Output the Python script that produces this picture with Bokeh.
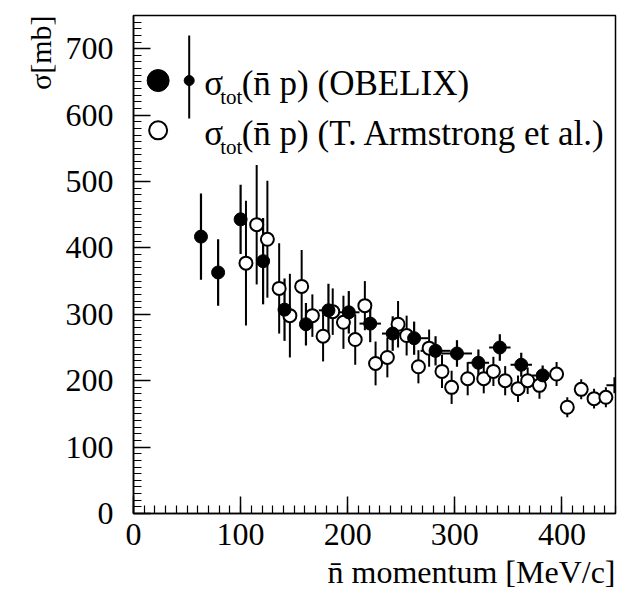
import math
from bokeh.plotting import figure
from bokeh.models import Range1d, SingleIntervalTicker, Label, ColumnDataSource, Title
from bokeh.embed import file_html
from bokeh.resources import INLINE

# ---------------- data ----------------
obelix_p = [63, 79, 100, 121, 141, 161, 182, 201, 221, 242, 262, 282, 302, 322, 342, 362, 382]
obelix_sigma = [417, 363, 443, 380, 307, 285, 306, 303, 286, 271, 264, 245, 241, 227, 250, 224, 208]
obelix_err = [65, 50, 52, 65, 47, 32, 40, 32, 28, 26, 25, 22, 20, 20, 20, 18, 15]
obelix_perr = [0, 0, 0, 0, 0, 0, 9, 10, 10, 10, 13, 14, 14, 10, 10, 10, 10]

arm_p = [105, 115, 125, 136, 146, 157, 167, 177, 186, 196, 207, 216, 226, 237, 247, 255,
         266, 276, 288, 297, 312, 327, 336, 347, 359, 368, 379, 395, 405, 418, 430, 441]
arm_sigma = [377, 435, 413, 339, 298, 342, 298, 267, 304, 288, 262, 313, 226, 235, 285, 268,
             221, 249, 214, 190, 203, 203, 214, 200, 188, 200, 193, 210, 160, 187, 173, 175]
arm_err = [94, 90, 88, 68, 63, 55, 32, 38, 35, 40, 38, 37, 33, 30, 35, 30,
           25, 28, 25, 25, 25, 22, 22, 22, 20, 20, 20, 18, 15, 15, 15, 15]

extra_p = [449]
extra_sigma = [193]

x_range = (0, 450)
y_range = (0, 750)
x_title = "n\u0304 momentum [MeV/c]"
y_title = "\u03c3[mb]"
leg_texts = ["(n\u0304 p) (OBELIX)", "(n\u0304 p) (T. Armstrong et al.)"]

FONT = "Liberation Serif"

p = figure(width=621, height=600, output_backend="svg", toolbar_location=None,
           x_range=Range1d(*x_range), y_range=Range1d(*y_range),
           min_border_left=133, min_border_right=6, min_border_top=15, min_border_bottom=87)
p.grid.visible = False
p.outline_line_color = "black"
p.outline_line_width = 1.5
p.background_fill_color = "white"
p.border_fill_color = "white"

for ax in (p.xaxis[0], p.yaxis[0]):
    ax.ticker = SingleIntervalTicker(interval=100, num_minor_ticks=10)
    ax.major_tick_in = 17
    ax.major_tick_out = 0
    ax.minor_tick_in = 8
    ax.minor_tick_out = 0
    ax.axis_line_width = 1.5
    ax.major_tick_line_width = 1.5
    ax.minor_tick_line_width = 1.2
    ax.major_label_text_font = FONT
    ax.major_label_text_font_size = "32px"
    ax.major_label_text_font_style = "normal"
    ax.major_label_text_color = "black"
p.xaxis.major_label_standoff = 10
p.yaxis.major_label_standoff = 20

# ---------------- axis titles ----------------
p.add_layout(Title(text=x_title, align="right", text_font=FONT, text_font_size="32px",
                   text_font_style="normal", text_color="black", standoff=8), "below")
p.add_layout(Title(text=y_title, align="right", text_font=FONT, text_font_size="30px",
                   text_font_style="normal", text_color="black", standoff=12), "left")

# ---------------- error bars and markers ----------------
src_o = ColumnDataSource(dict(
    x=obelix_p, y=obelix_sigma,
    lo=[s - e for s, e in zip(obelix_sigma, obelix_err)],
    hi=[s + e for s, e in zip(obelix_sigma, obelix_err)],
    xl=[x - e for x, e in zip(obelix_p, obelix_perr)],
    xh=[x + e for x, e in zip(obelix_p, obelix_perr)]))
src_a = ColumnDataSource(dict(
    x=arm_p, y=arm_sigma,
    lo=[s - e for s, e in zip(arm_sigma, arm_err)],
    hi=[s + e for s, e in zip(arm_sigma, arm_err)]))

p.segment(x0="x", y0="lo", x1="x", y1="hi", source=src_a, line_color="black", line_width=2)
p.segment(x0="x", y0="lo", x1="x", y1="hi", source=src_o, line_color="black", line_width=2.2)
p.segment(x0="xl", y0="y", x1="xh", y1="y", source=src_o, line_color="black", line_width=2)
p.scatter(x="x", y="y", source=src_a, size=13, marker="circle",
          fill_color="white", line_color="black", line_width=2)
p.scatter(x="x", y="y", source=src_o, size=13, marker="circle",
          fill_color="black", line_color="black")
p.scatter(x=extra_p, y=extra_sigma, size=16, marker="cross", line_color="black", line_width=2)

# ---------------- legend (drawn by hand, ROOT style) ----------------
leg_x = 23
leg_y = [652, 577]
p.scatter(x=[leg_x], y=[leg_y[0]], size=22, marker="circle", fill_color="black", line_color="black")
p.scatter(x=[leg_x], y=[leg_y[1]], size=18, marker="circle", fill_color="white",
          line_color="black", line_width=2)
p.segment(x0=[52], y0=[595], x1=[52], y1=[720], line_color="black", line_width=2)
p.scatter(x=[52], y=[leg_y[0]], size=10, marker="circle", fill_color="black", line_color="black")

base = [647, 572]
for i in range(2):
    p.add_layout(Label(x=66, y=base[i], text="\u03c3", text_font=FONT, text_font_size="35px",
                       text_baseline="alphabetic", text_color="black"))
    p.add_layout(Label(x=81, y=base[i] - 20, text="tot", text_font=FONT, text_font_size="21px",
                       text_baseline="alphabetic", text_color="black"))
    p.add_layout(Label(x=101, y=base[i], text=leg_texts[i], text_font=FONT, text_font_size="35px",
                       text_baseline="alphabetic", text_color="black"))

open("out.html", "w").write(file_html(p, INLINE))
